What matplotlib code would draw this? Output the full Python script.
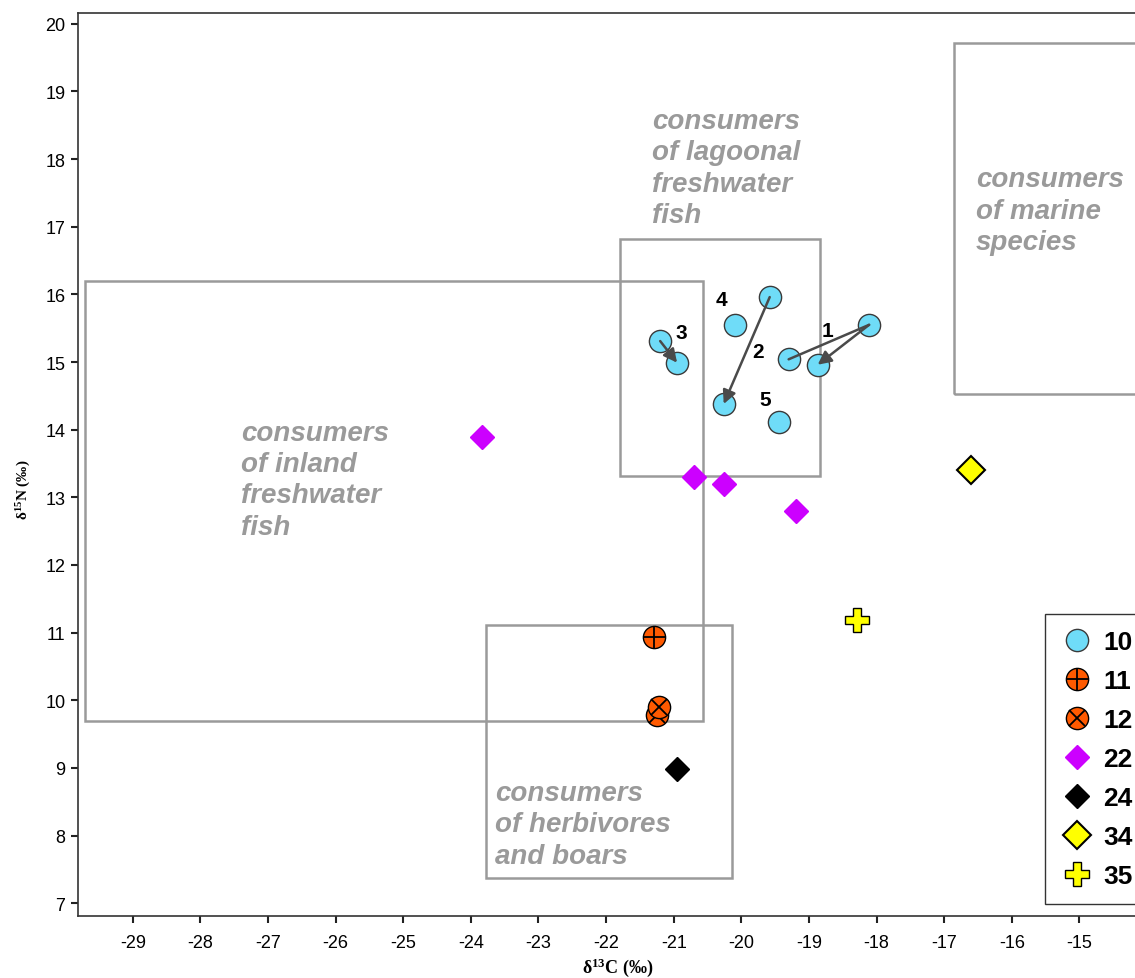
import matplotlib
matplotlib.use('Agg')
import matplotlib.pyplot as plt
from matplotlib.patches import Rectangle
from matplotlib.lines import Line2D

plt.rcParams['font.family'] = ['Liberation Sans', 'DejaVu Sans']
plt.rcParams['axes.unicode_minus'] = False
plt.rcParams['mathtext.fontset'] = 'custom'
plt.rcParams['mathtext.rm'] = 'Liberation Serif:bold'
plt.rcParams['mathtext.it'] = 'Liberation Serif:bold'

# group 10: individuals, some sampled twice (arrows link the pairs)
g10_x = [-21.20, -20.95, -20.09, -19.58, -20.26, -19.30, -18.87, -18.11, -19.44]
g10_y = [15.31, 14.99, 15.55, 15.96, 14.38, 15.04, 14.96, 15.55, 14.11]
g11_x = [-21.29]
g11_y = [10.93]
g12_x = [-21.25, -21.22]
g12_y = [9.78, 9.90]
g22_x = [-23.84, -20.70, -20.26, -19.19]
g22_y = [13.89, 13.30, 13.20, 12.80]
g24_x = [-20.95]
g24_y = [8.98]
g34_x = [-16.60]
g34_y = [13.40]
g35_x = [-18.29]
g35_y = [11.18]

# (from, to, with head) indices into group 10
links = [(7, 5, False), (7, 6, True), (3, 4, True), (0, 1, True)]
ind_labels = ['1', '2', '3', '4', '5']
ind_x = [-18.72, -19.75, -20.88, -20.29, -19.64]
ind_y = [15.47, 15.16, 15.43, 15.93, 14.45]

# diet zones: (x0, y0, x1, y1)
zones = [(-29.70, 9.69, -20.57, 16.20),
         (-21.80, 13.31, -18.84, 16.82),
         (-23.78, 7.37, -20.14, 11.11),
         (-16.86, 14.53, -13.0, 19.72)]
zone_text = ['consumers\nof inland\nfreshwater\nfish',
             'consumers\nof lagoonal\nfreshwater\nfish',
             'consumers\nof herbivores\nand boars',
             'consumers\nof marine\nspecies']
# x of left edge, y of last line's baseline
zone_tx = [-27.40, -21.32, -23.64, -16.53]
zone_ty = [12.46, 17.07, 7.60, 16.67]

fig = plt.figure(figsize=(11.35, 9.79), dpi=100)
ax = fig.add_axes([78 / 1135, 62 / 979, 1069 / 1135, 903 / 979])
ax.set_xlim(-29.81, -14.0)
ax.set_ylim(6.81, 20.16)

grey = '#9a9a9a'
for (x0, y0, x1, y1) in zones:
    ax.add_patch(Rectangle((x0, y0), x1 - x0, y1 - y0, fill=False,
                           edgecolor=grey, lw=1.8, zorder=1))
for t, tx, ty in zip(zone_text, zone_tx, zone_ty):
    ax.text(tx, ty, t, color=grey, fontsize=20, fontweight='bold',
            fontstyle='italic', va='baseline', ha='left', linespacing=1.27,
            zorder=2)

cyan = '#6fdcf8'
orange = '#ff5a00'
ms = 16
ax.plot(g10_x, g10_y, 'o', ms=ms, mfc=cyan, mec='#3a3a3a', mew=1, ls='none', zorder=3)
ax.plot(g11_x, g11_y, 'o', ms=ms, mfc=orange, mec='black', mew=1, ls='none', zorder=3)
ax.plot(g11_x, g11_y, '+', ms=ms, mec='black', mew=1.3, ls='none', zorder=3)
for x, y in zip(g12_x, g12_y):
    ax.plot([x], [y], 'o', ms=ms, mfc=orange, mec='black', mew=1, zorder=3)
    ax.plot([x], [y], 'x', ms=ms * 0.7, mec='black', mew=1.3, zorder=3)
ax.plot(g22_x, g22_y, 'D', ms=12, mfc='#cc00ff', mec='#cc00ff', ls='none', zorder=3)
ax.plot(g24_x, g24_y, 'D', ms=12, mfc='black', mec='black', ls='none', zorder=3)
ax.plot(g34_x, g34_y, 'D', ms=14, mfc='#ffff00', mec='black', mew=1.5, ls='none', zorder=3)
ax.plot(g35_x, g35_y, 'P', ms=17, mfc='#ffff00', mec='black', mew=1, ls='none', zorder=3)

for a, b, head in links:
    style = '-|>' if head else '-'
    ax.annotate('', xy=(g10_x[b], g10_y[b]), xytext=(g10_x[a], g10_y[a]),
                arrowprops=dict(arrowstyle=style, color='#4a4a4a', lw=1.8,
                                mutation_scale=20, shrinkA=0, shrinkB=0),
                zorder=4)

for t, x, y in zip(ind_labels, ind_x, ind_y):
    ax.text(x, y, t, fontsize=15, fontweight='bold', ha='center', va='center', zorder=5)

ax.spines['right'].set_visible(False)
for side in ['left', 'bottom', 'top']:
    ax.spines[side].set_color('#333333')
    ax.spines[side].set_linewidth(1.2)

ax.set_xticks(range(-29, -14))
ax.set_yticks(range(7, 21))
ax.tick_params(axis='both', direction='out', length=5, width=1.5, color='#222222',
               labelsize=13)
ax.tick_params(axis='x', pad=8)
ax.tick_params(axis='y', pad=4)

fig.text(24 / 1135, 1 - 490 / 979, 'δ$^{15}$N (‰)', rotation=90, ha='center', va='center',
         fontsize=11, fontweight='bold', family='Liberation Serif')
fig.text(618 / 1135, 1 - 968 / 979, 'δ$^{13}$C (‰)', ha='center', va='center',
         fontsize=13, fontweight='bold', family='Liberation Serif')

handles = [
    Line2D([], [], marker='o', ms=ms, mfc=cyan, mec='#3a3a3a', ls='none'),
    (Line2D([], [], marker='o', ms=ms, mfc=orange, mec='black', ls='none'),
     Line2D([], [], marker='+', ms=ms, mec='black', mew=1.3, ls='none')),
    (Line2D([], [], marker='o', ms=ms, mfc=orange, mec='black', ls='none'),
     Line2D([], [], marker='x', ms=ms * 0.7, mec='black', mew=1.3, ls='none')),
    Line2D([], [], marker='D', ms=12, mfc='#cc00ff', mec='#cc00ff', ls='none'),
    Line2D([], [], marker='D', ms=12, mfc='black', mec='black', ls='none'),
    Line2D([], [], marker='D', ms=14, mfc='#ffff00', mec='black', mew=1.5, ls='none'),
    Line2D([], [], marker='P', ms=17, mfc='#ffff00', mec='black', ls='none'),
]
labels = ['10', '11', '12', '22', '24', '34', '35']
leg = fig.legend(handles, labels, loc='upper left',
                 bbox_to_anchor=(1045 / 1135, 1 - 615 / 979),
                 bbox_transform=fig.transFigure, borderaxespad=0,
                 prop={'size': 19, 'weight': 'bold'}, fancybox=False,
                 edgecolor='#333333', framealpha=1, handlelength=1.2,
                 handletextpad=0.4, labelspacing=0.57, borderpad=0.6)
leg.get_frame().set_linewidth(1.0)

fig.savefig('out.png', dpi=100)
